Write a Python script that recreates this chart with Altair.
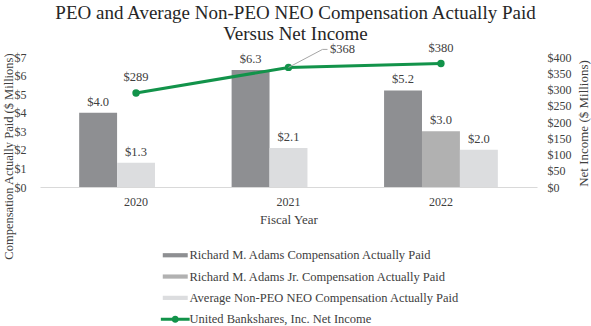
import altair as alt
import pandas as pd

# ---- data ----
years = ["2020", "2021", "2022"]
bar_series = [
    "Richard M. Adams Compensation Actually Paid",
    "Richard M. Adams Jr. Compensation Actually Paid",
    "Average Non-PEO NEO Compensation Actually Paid",
]
line_series = "United Bankshares, Inc. Net Income"
adams = [4.0, 6.3, 5.2]
adams_jr = [None, None, 3.0]
avg_neo = [1.3, 2.1, 2.0]
net_income = [289, 368, 380]

left_ticks = [0, 1, 2, 3, 4, 5, 6, 7]
right_ticks = [0, 50, 100, 150, 200, 250, 300, 350, 400]

# ---- styles ----
bar_colors = ["#8e8f92", "#b1b1b1", "#dcdddf"]
line_color = "#12934a"
FONT = "Liberation Serif"
TXT = "#404040"

rows = []
for i, yr in enumerate(years):
    slot = 0
    for name, vals in zip(bar_series, [adams, adams_jr, avg_neo]):
        v = vals[i]
        if v is None:
            continue
        rows.append({"year": yr, "series": name, "value": v, "slot": slot})
        slot += 1
bars_df = pd.DataFrame(rows)
line_df = pd.DataFrame({"year": years, "income": net_income, "series": line_series})

rect_path = "M-2.08,-0.35H2.08V0.35H-2.08Z"
line_path = ("M-2.4,-0.25H2.4V0.25H-2.4Z "
             "M-0.6,0A0.6,0.6 0 1,1 0.6,0A0.6,0.6 0 1,1 -0.6,0Z")

x_enc = alt.X(
    "year:N", sort=years,
    scale=alt.Scale(paddingInner=0, paddingOuter=0.13),
    axis=alt.Axis(title="Fiscal Year", labelAngle=0, ticks=False,
                  domainColor="#d9d9d9", domainWidth=1, labelPadding=9,
                  titlePadding=6, titleFontSize=13, labelFontSize=12),
)

y_left = alt.Y(
    "value:Q",
    scale=alt.Scale(domain=[0, 7], nice=False),
    axis=alt.Axis(orient="left", values=left_ticks, labelExpr="'$' + datum.value",
                  domain=False, ticks=False, grid=False, labelPadding=14,
                  labelFontSize=12,
                  title="Compensation Actually Paid ($ Millions)",
                  titleX=-32, titleY=99, titleAngle=270, titleBaseline="middle",
                  titleFontSize=12.5),
)
y_right = alt.Y(
    "income:Q",
    scale=alt.Scale(domain=[0, 400], nice=False),
    axis=alt.Axis(orient="right", values=right_ticks, labelExpr="'$' + datum.value",
                  domain=False, ticks=False, grid=False, labelPadding=10,
                  labelFontSize=12,
                  title="Net Income ($ Millions)",
                  titleX=46, titleY=66, titleAngle=270, titleBaseline="middle",
                  titleFontSize=13),
)
x_off = alt.XOffset("slot:N", scale=alt.Scale(domain=[0, 1, 2], paddingInner=0, paddingOuter=0.51))

leg_common = dict(title=None, orient="none", legendX=129, direction="vertical",
                  labelFont=FONT, labelFontSize=12.5, labelColor=TXT, symbolSize=144,
                  symbolStrokeWidth=0, rowPadding=8.3, labelOffset=8, labelLimit=400)

bar_base = alt.Chart(bars_df).encode(x=x_enc, y=y_left, xOffset=x_off)
bars = bar_base.mark_bar().encode(
    fill=alt.Fill("series:N",
                  scale=alt.Scale(domain=bar_series, range=bar_colors),
                  legend=alt.Legend(legendY=192, symbolType=rect_path, **leg_common))
)
bar_labels = bar_base.mark_text(dy=-11, fontSize=12.5, color=TXT, font=FONT).transform_calculate(
    lbl="'$' + format(datum.value, '.1f')"
).encode(text="lbl:N")
left = alt.layer(bars, bar_labels)

line_base = alt.Chart(line_df).encode(x=x_enc, y=y_right)
line = line_base.mark_line(color=line_color, strokeWidth=3)
pts = line_base.mark_circle(size=55, opacity=1).encode(
    color=alt.Color("series:N",
                    scale=alt.Scale(domain=[line_series], range=[line_color]),
                    legend=alt.Legend(legendY=256, symbolType=line_path, **leg_common))
)
lab_calc = "'$' + format(datum.income, 'd')"
line_labels = line_base.mark_text(dy=-16, fontSize=12.5, color=TXT, font=FONT).transform_filter(
    "datum.year != '2021'").transform_calculate(lbl=lab_calc).encode(text="lbl:N")
line_label_21 = line_base.mark_text(dx=54, dy=-18, fontSize=12.5, color=TXT, font=FONT).transform_filter(
    "datum.year == '2021'").transform_calculate(lbl=lab_calc).encode(text="lbl:N")
leader1 = line_base.mark_rule(color="#a6a6a6", strokeWidth=1, x2Offset=34, y2Offset=-18).transform_filter(
    "datum.year == '2021'").encode(x2=alt.X2("year:N", bandPosition=0.5), y2="income:Q")
leader2 = line_base.mark_rule(color="#a6a6a6", strokeWidth=1, xOffset=34, x2Offset=39,
                              yOffset=-18, y2Offset=-18).transform_filter(
    "datum.year == '2021'").encode(x2=alt.X2("year:N", bandPosition=0.5), y2="income:Q")
right = alt.layer(line, pts, line_labels, line_label_21, leader1, leader2)

chart = alt.layer(left, right).resolve_scale(y="independent").properties(
    width=497, height=130,
    autosize=alt.AutoSizeParams(type="none"),
    padding={"left": 40, "top": 57, "right": 54, "bottom": 139},
    title=alt.TitleParams(
        text=["PEO and Average Non-PEO NEO Compensation Actually Paid", "Versus Net Income"],
        font=FONT, fontSize=19, fontWeight="normal", color="#262626",
        anchor="middle", dx=7, offset=-2, lineHeight=21,
    ),
).configure(font=FONT).configure_view(stroke=None).configure_axis(
    labelFont=FONT, titleFont=FONT, labelColor=TXT, titleColor=TXT, titleFontWeight="normal"
).configure_text(font=FONT)

chart.save("out.html", embed_options={"renderer": "svg", "actions": False})
